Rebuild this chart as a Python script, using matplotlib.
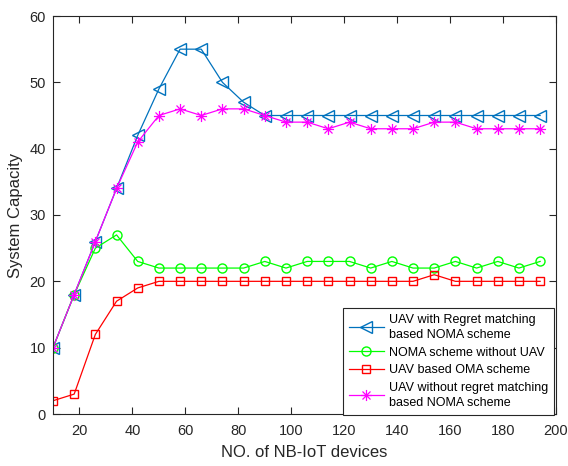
import matplotlib.pyplot as plt
from matplotlib.path import Path
import numpy as np

plt.rcParams['font.family'] = ['Liberation Sans', 'DejaVu Sans']

# number of NB-IoT devices
devices = [10, 18, 26, 34, 42, 50, 58, 66, 74, 82, 90, 98, 106, 114, 122,
           130, 138, 146, 154, 162, 170, 178, 186, 194]

regret_noma = [10, 18, 26, 34, 42, 49, 55, 55, 50, 47, 45, 45, 45, 45, 45,
               45, 45, 45, 45, 45, 45, 45, 45, 45]
noma_no_uav = [10, 18, 25, 27, 23, 22, 22, 22, 22, 22, 23, 22, 23, 23, 23,
               22, 23, 22, 22, 23, 22, 23, 22, 23]
uav_oma = [2, 3, 12, 17, 19, 20, 20, 20, 20, 20, 20, 20, 20, 20, 20,
           20, 20, 20, 21, 20, 20, 20, 20, 20]
no_regret_noma = [10, 18, 26, 34, 41, 45, 46, 45, 46, 46, 45, 44, 44, 43, 44,
                  43, 43, 43, 44, 44, 43, 43, 43, 43]

# matlab style asterisk: + and x together
d = 0.72
asterisk = Path([(-1, 0), (1, 0), (0, -1), (0, 1), (-d, -d), (d, d), (-d, d), (d, -d)],
                [Path.MOVETO, Path.LINETO] * 4)

fig = plt.figure(figsize=(5.68, 4.66), dpi=100)
ax = fig.add_axes([53/568, 52/466, 503/568, 398/466])

ax.plot(devices, regret_noma, '-<', color='#0072BD', mfc='none', ms=8.5, lw=0.9,
        label='UAV with Regret matching\nbased NOMA scheme')
ax.plot(devices, noma_no_uav, '-o', color='#00FF00', mfc='none', ms=6.5, lw=0.9,
        label='NOMA scheme without UAV')
ax.plot(devices, uav_oma, '-s', color='#FF0000', mfc='none', ms=5.5, lw=0.9,
        label='UAV based OMA scheme')
ax.plot(devices, no_regret_noma, '-', marker=asterisk, color='#FF00FF', ms=8, lw=0.9,
        mew=0.9, label='UAV without regret matching\nbased NOMA scheme')

ax.set_xlim(10, 200)
ax.set_ylim(0, 60)
ax.set_xticks(np.arange(20, 201, 20))
ax.set_yticks(np.arange(0, 61, 10))
ax.tick_params(direction='in', top=True, right=True, labelsize=10.5,
               colors='#262626', length=5)
ax.tick_params(axis='x', pad=7)
ax.tick_params(axis='y', pad=5)
for s in ax.spines.values():
    s.set_color('#262626')
    s.set_linewidth(0.8)

ax.set_xlabel('NO. of NB-IoT devices', fontsize=12, color='#262626', labelpad=5)
ax.set_ylabel('System Capacity', fontsize=12, color='#262626', labelpad=5)

leg = ax.legend(loc='lower right', bbox_to_anchor=(0.997, -0.003), fontsize=9,
                fancybox=False, framealpha=1, edgecolor='#262626', borderaxespad=0,
                handlelength=2.8, labelspacing=0.45, borderpad=0.5, handletextpad=0.4)
for t in leg.get_texts():
    t.set_linespacing(1.35)
leg.get_frame().set_linewidth(0.8)

fig.savefig('out.png', dpi=100)
